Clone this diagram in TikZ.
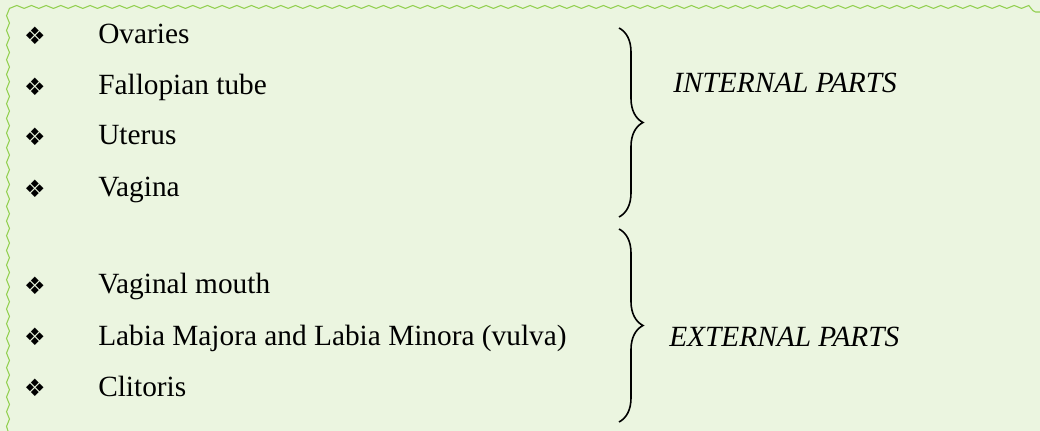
\documentclass[tikz,border=0pt]{standalone}
\usepackage{fontspec}
\setmainfont{Liberation Serif}
\newfontfamily\symfont{DejaVu Sans}
\usepackage{tikz}
\usetikzlibrary{decorations.pathmorphing,decorations.pathreplacing}
\definecolor{bgGreen}{RGB}{235,245,224}
\definecolor{waveGreen}{RGB}{146,208,80}
\tikzset{
	item/.style={anchor=base west,inner sep=0pt,font=\fontsize{22}{26}\selectfont},
	bullet/.style={anchor=center,inner sep=0pt,font=\symfont\fontsize{18}{22}\selectfont},
	partlabel/.style={anchor=base west,inner sep=0pt,font=\fontsize{22}{26}\selectfont\itshape},
	bracket/.style={decorate,decoration={brace,amplitude=18pt},line width=1.2pt}
}
\begin{document}
\begin{tikzpicture}[x=0.75pt,y=0.75pt,yscale=-1,xscale=1]
			% Hintergrund
			\fill[bgGreen] (0,0) rectangle (1040,431);
			\useasboundingbox (0,0) rectangle (1040,431);
			% Rahmen
			\draw[waveGreen,line width=0.8pt,decorate,decoration={snake,amplitude=1.1pt,segment length=11pt}] (8,431) -- (8,12) -- (1040,12) ;
			
			% Ovaries
			\draw (35,36) node [bullet] (b1) {❖};
			\draw (98,44) node [item] (ovaries) {Ovaries};
			% Fallopian tube
			\draw (35,87) node [bullet] (b2) {❖};
			\draw (98,95) node [item] (tube) {Fallopian tube};
			% Uterus
			\draw (35,137) node [bullet] (b3) {❖};
			\draw (98,145) node [item] (uterus) {Uterus};
			% Vagina
			\draw (35,189) node [bullet] (b4) {❖};
			\draw (98,197) node [item] (vagina) {Vagina};
			% Vaginal mouth
			\draw (35,286) node [bullet] (b5) {❖};
			\draw (98,294) node [item] (mouth) {Vaginal mouth};
			% Labia
			\draw (35,337) node [bullet] (b6) {❖};
			\draw (98,345) node [item] (labia) {Labia Majora and Labia Minora (vulva)};
			% Clitoris
			\draw (35,388) node [bullet] (b7) {❖};
			\draw (98,396) node [item] (clitoris) {Clitoris};
			
			% Klammern
			\coordinate (inTop) at (619,28);
			\coordinate (inBot) at (619,217);
			\coordinate (exTop) at (619,229);
			\coordinate (exBot) at (619,422);
			\draw[bracket] (inTop) -- (inBot) ;
			\draw[bracket] (exTop) -- (exBot) ;
			
			% INTERNAL PARTS
			\draw (673,93) node [partlabel] (internal) {INTERNAL PARTS};
			% EXTERNAL PARTS
			\draw (669,347) node [partlabel] (external) {EXTERNAL PARTS};
			
		\end{tikzpicture}
\end{document}
